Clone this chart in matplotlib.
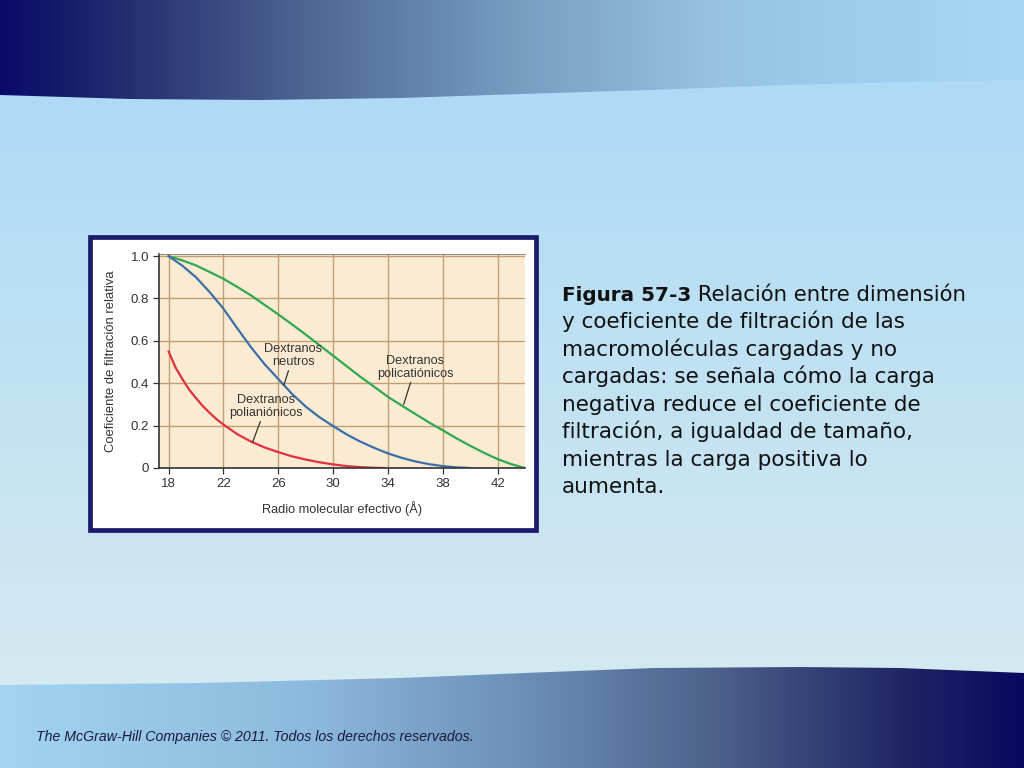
import numpy as np
import matplotlib
matplotlib.use('Agg')
import matplotlib.pyplot as plt
from matplotlib.patches import Rectangle, Polygon

# datos
x_cat = [18, 19, 20, 21, 22, 23, 24, 25, 26, 27, 28, 29, 30, 31, 32, 33, 34,
         35, 36, 37, 38, 39, 40, 41, 42, 43, 44]
y_cat = [1.0, 0.98, 0.956, 0.925, 0.893, 0.855, 0.815, 0.77, 0.725, 0.678,
         0.63, 0.58, 0.53, 0.48, 0.43, 0.383, 0.336, 0.295, 0.255, 0.215,
         0.178, 0.14, 0.105, 0.072, 0.042, 0.018, 0.0]

x_neu = [18, 19, 20, 21, 22, 23, 24, 25, 26, 27, 28, 29, 30, 31, 32, 33, 34,
         35, 36, 37, 38, 39, 40]
y_neu = [1.0, 0.955, 0.90, 0.83, 0.752, 0.66, 0.571, 0.49, 0.42, 0.35, 0.29,
         0.24, 0.198, 0.158, 0.124, 0.095, 0.069, 0.048, 0.031, 0.018, 0.009,
         0.003, 0.0]

x_ani = [18, 18.5, 19, 19.5, 20, 20.5, 21, 21.5, 22, 23, 24, 25, 26, 27, 28,
         29, 30, 31, 32, 33, 33.7]
y_ani = [0.55, 0.475, 0.42, 0.37, 0.33, 0.292, 0.26, 0.23, 0.205, 0.16, 0.125,
         0.097, 0.075, 0.055, 0.04, 0.027, 0.017, 0.009, 0.004, 0.001, 0.0]

x_ticks = [18, 22, 26, 30, 34, 38, 42]
y_ticks = [0, 0.2, 0.4, 0.6, 0.8, 1.0]
y_ticklabels = ['0', '0.2', '0.4', '0.6', '0.8', '1.0']

caption = ['y coeficiente de filtración de las',
           'macromoléculas cargadas y no',
           'cargadas: se señala cómo la carga',
           'negativa reduce el coeficiente de',
           'filtración, a igualdad de tamaño,',
           'mientras la carga positiva lo',
           'aumenta.']

W, H = 1024, 768
fig = plt.figure(figsize=(10.24, 7.68), dpi=100)

# fondo de la diapositiva
bg = fig.add_axes([0, 0, 1, 1])
bg.set_xlim(0, W)
bg.set_ylim(H, 0)
bg.axis('off')

top_c = np.array([168, 216, 246]) / 255
bot_c = np.array([218, 236, 240]) / 255
t = np.linspace(0, 1, H)[:, None, None]
grad_v = top_c * (1 - t) + bot_c * t
bg.imshow(grad_v, extent=(0, W, H, 0), aspect='auto', zorder=0)


def hgrad(stops):
    xs = np.linspace(0, 1, W)
    pos = [s[0] for s in stops]
    cols = np.array([s[1] for s in stops]) / 255
    img = np.stack([np.interp(xs, pos, cols[:, k]) for k in range(3)], axis=-1)
    return img[None, :, :]


# banda superior
top_stops = [(0, (10, 10, 105)), (0.12, (35, 45, 110)), (0.3, (78, 102, 148)),
             (0.5, (118, 156, 194)), (0.7, (150, 195, 228)), (1, (166, 216, 246))]
xe = np.linspace(0, W, 200)
edge_top = np.interp(xe, [0, 130, 260, 400, 520, 650, 785, 900, 1024],
                     [95, 99, 100, 98, 94, 90, 85, 82, 80])
poly_top = Polygon(np.vstack([[0, 0], np.column_stack([xe, edge_top]), [W, 0]]),
                   closed=True, transform=bg.transData, facecolor='none', edgecolor='none')
bg.add_patch(poly_top)
im1 = bg.imshow(hgrad(top_stops), extent=(0, W, H, 0), aspect='auto', zorder=1)
im1.set_clip_path(poly_top)

# banda inferior
bot_stops = [(0, (162, 212, 242)), (0.3, (140, 186, 222)), (0.5, (110, 145, 185)),
             (0.7, (75, 97, 140)), (0.88, (32, 38, 100)), (1, (8, 8, 95))]
edge_bot = np.interp(xe, [0, 200, 400, 550, 654, 800, 900, 1024],
                     [685, 683, 678, 672, 668, 667, 668, 673])
poly_bot = Polygon(np.vstack([[0, H], np.column_stack([xe, edge_bot]), [W, H]]),
                   closed=True, transform=bg.transData, facecolor='none', edgecolor='none')
bg.add_patch(poly_bot)
im2 = bg.imshow(hgrad(bot_stops), extent=(0, W, H, 0), aspect='auto', zorder=1)
im2.set_clip_path(poly_bot)

# marco de la figura
bg.add_patch(Rectangle((90, 237), 446, 293, facecolor='white',
                       edgecolor='#1b1b6b', linewidth=3.4, zorder=2))

# texto de la derecha
tf = 'DejaVu Sans'
b = bg.text(562, 301, 'Figura 57-3', fontsize=14.4, fontweight='bold',
            family=tf, color='#111111', va='baseline', ha='left', zorder=3)
bg.annotate(' Relación entre dimensión', xy=(1, 0), xycoords=b,
            fontsize=15.3, family=tf, color='#111111', va='bottom', ha='left')
for i, line in enumerate(caption):
    bg.text(562, 328.5 + i * 27.4, line, fontsize=15.5, family=tf,
            color='#111111', va='baseline', ha='left', zorder=3)

bg.text(36, 741, 'The McGraw-Hill Companies © 2011. Todos los derechos reservados.',
        fontsize=10.2, style='italic', family='Liberation Sans', color='#1a1a3a',
        va='baseline', ha='left', zorder=3)

# grafica
ax = fig.add_axes([159 / W, 1 - 468 / H, (525 - 159) / W, (468 - 254) / H])
ax.set_facecolor('#fcebd3')
ax.set_xlim(17.3, 44)
ax.set_ylim(0, 1.01)

ax.set_xticks(x_ticks)
ax.set_yticks(y_ticks)
ax.set_yticklabels(y_ticklabels)
ax.grid(True, color='#c09f72', linewidth=1.0)
ax.set_axisbelow(True)

ax.spines['right'].set_visible(False)
ax.spines['top'].set_color('#777777')
ax.spines['top'].set_linewidth(0.6)
ax.spines['left'].set_color('#333333')
ax.spines['bottom'].set_color('#333333')
ax.spines['left'].set_linewidth(1.2)
ax.spines['bottom'].set_linewidth(1.2)

ax.tick_params(direction='out', length=4, width=0.9, color='#333333',
               labelsize=9.5, labelcolor='#333333', pad=3)
for lab in ax.get_xticklabels() + ax.get_yticklabels():
    lab.set_family('Liberation Sans')

ax.plot(x_cat, y_cat, color='#2fa850', linewidth=1.6)
ax.plot(x_neu, y_neu, color='#3a6fa8', linewidth=1.6)
ax.plot(x_ani, y_ani, color='#e0303c', linewidth=1.6)

af = dict(fontsize=9.2, family='Liberation Sans', color='#333333',
          ha='center', va='center', linespacing=1.05)
ap = dict(arrowstyle='-', color='#333333', linewidth=0.9, shrinkA=0, shrinkB=0)
ax.annotate('Dextranos\nneutros', xy=(26.4, 0.39), xytext=(27.1, 0.53),
            arrowprops=ap, **af)
ax.annotate('Dextranos\npolicatiónicos', xy=(35.15, 0.30), xytext=(36.0, 0.475),
            arrowprops=ap, **af)
ax.annotate('Dextranos\npolianiónicos', xy=(24.13, 0.122), xytext=(25.1, 0.29),
            arrowprops=ap, **af)

ax.set_xlabel('Radio molecular efectivo (Å)', fontsize=9.2,
              family='Liberation Sans', color='#333333', labelpad=8)
ax.set_ylabel('Coeficiente de filtración relativa', fontsize=9.4,
              family='Liberation Sans', color='#333333', labelpad=10)

fig.savefig('out.png', dpi=100)
